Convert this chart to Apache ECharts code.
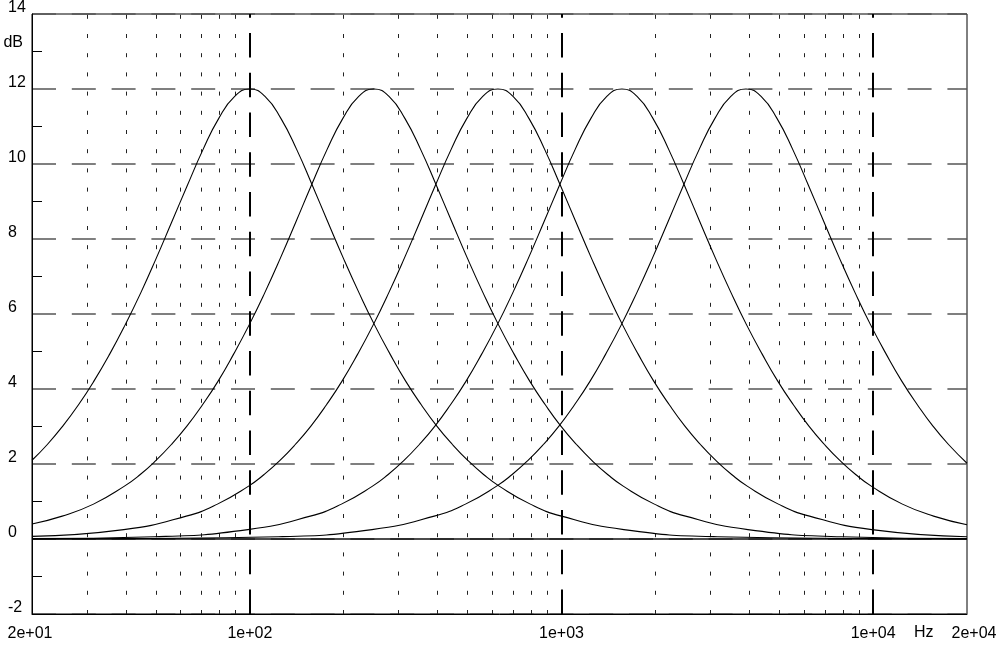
<!DOCTYPE html>
<html>
<head>
<meta charset="utf-8">
<script src="https://cdn.jsdelivr.net/npm/echarts@6.0.0/dist/echarts.min.js"></script>
<style>
html, body { margin: 0; padding: 0; background: #fff; }
#main { width: 999px; height: 647px; }
</style>
</head>
<body>
<div id="main"></div>
<script>
// five peaking bands, +12 dB each, [Hz, dB]
let band100 = [
    [20, 2.10], [22.4, 2.52], [25.1, 3.01], [28.2, 3.58], [31.6, 4.21], [35.5, 4.93], [39.8, 5.71],
    [44.7, 6.57], [50.1, 7.49], [56.2, 8.46], [63.1, 9.44], [70.8, 10.39], [79.4, 11.21], [89.1, 11.79],
    [100, 12.00], [112.2, 11.79], [125.9, 11.21], [141.3, 10.39], [158.5, 9.44], [177.8, 8.46],
    [199.5, 7.49], [223.9, 6.57], [251.2, 5.71], [281.8, 4.93], [316.2, 4.21], [354.8, 3.58],
    [398.1, 3.01], [446.7, 2.52], [501.2, 2.09], [562.3, 1.72], [631, 1.41], [794.3, 0.93],
    [1000, 0.61], [1585, 0.25], [3162, 0.06], [10000, 0.01], [20000, 0]
];
let band250 = [
    [20, 0.40], [25.0, 0.61], [31.5, 0.93], [39.6, 1.41], [44.5, 1.72], [49.9, 2.09], [56.0, 2.52],
    [62.8, 3.01], [70.5, 3.58], [79.1, 4.21], [88.7, 4.93], [99.5, 5.71], [111.7, 6.57], [125.3, 7.49],
    [140.6, 8.46], [157.7, 9.44], [177.0, 10.39], [198.6, 11.21], [222.8, 11.79], [250, 12.00],
    [280.5, 11.79], [314.7, 11.21], [353.1, 10.39], [396.2, 9.44], [444.6, 8.46], [498.8, 7.49],
    [559.7, 6.57], [628.0, 5.71], [704.6, 4.93], [790.6, 4.21], [887.0, 3.58], [995.3, 3.01],
    [1116.7, 2.52], [1253.0, 2.09], [1405.9, 1.72], [1577.4, 1.41], [1985.8, 0.93], [2500, 0.61],
    [3962, 0.25], [7906, 0.06], [20000, 0.01]
];
let band625 = [
    [20, 0.07], [39.4, 0.25], [62.5, 0.61], [78.7, 0.93], [99.1, 1.41], [111.1, 1.72], [124.7, 2.09],
    [139.9, 2.52], [157.0, 3.01], [176.2, 3.58], [197.6, 4.21], [221.8, 4.93], [248.8, 5.71],
    [279.2, 6.57], [313.2, 7.49], [351.5, 8.46], [394.3, 9.44], [442.5, 10.39], [496.5, 11.21],
    [557.0, 11.79], [625, 12.00], [701.3, 11.79], [786.8, 11.21], [882.8, 10.39], [990.6, 9.44],
    [1111.4, 8.46], [1247.1, 7.49], [1399.2, 6.57], [1569.9, 5.71], [1761.5, 4.93], [1976.4, 4.21],
    [2217.6, 3.58], [2488.2, 3.01], [2791.8, 2.52], [3132.4, 2.09], [3514.6, 1.72], [3943.5, 1.41],
    [4964.6, 0.93], [6250, 0.61], [9906, 0.25], [20000, 0.06]
];
let band1560 = [
    [20, 0.01], [49.4, 0.06], [98.6, 0.25], [156.3, 0.61], [196.7, 0.93], [247.6, 1.41], [277.9, 1.72],
    [311.8, 2.09], [349.8, 2.52], [392.5, 3.01], [440.4, 3.58], [494.1, 4.21], [554.4, 4.93],
    [622.0, 5.71], [698.0, 6.57], [783.1, 7.49], [878.7, 8.46], [985.9, 9.44], [1106.2, 10.39],
    [1241.2, 11.21], [1392.6, 11.79], [1562.5, 12.00], [1753.1, 11.79], [1967.0, 11.21],
    [2207.0, 10.39], [2476.4, 9.44], [2778.6, 8.46], [3117.7, 7.49], [3498.0, 6.57], [3924.8, 5.71],
    [4403.8, 4.93], [4941.1, 4.21], [5543.9, 3.58], [6220.5, 3.01], [6979.4, 2.52], [7831.1, 2.09],
    [8786.6, 1.72], [9858.8, 1.41], [12411, 0.93], [15625, 0.61], [20000, 0.38]
];
let band3900 = [
    [20, 0], [39.1, 0.01], [123.5, 0.06], [246.5, 0.25], [390.6, 0.61], [491.8, 0.93], [619.1, 1.41],
    [694.6, 1.72], [779.4, 2.09], [874.5, 2.52], [981.2, 3.01], [1100.9, 3.58], [1235.3, 4.21],
    [1386.0, 4.93], [1555.1, 5.71], [1744.9, 6.57], [1957.7, 7.49], [2196.6, 8.46], [2464.7, 9.44],
    [2765.5, 10.39], [3102.9, 11.21], [3481.5, 11.79], [3906.25, 12.00], [4382.8, 11.79],
    [4917.6, 11.21], [5517.6, 10.39], [6191.0, 9.44], [6946.5, 8.46], [7794.1, 7.49], [8745.0, 6.57],
    [9812.1, 5.71], [11009, 4.93], [12352, 4.21], [13860, 3.58], [15551, 3.01], [17449, 2.52],
    [20000, 2.02]
];
let bands = [band100, band250, band625, band1560, band3900];

// vertical grid: decades dashed, the rest dotted
let decadeLines = [100, 1000, 10000];
let minorLines = [30, 40, 50, 60, 70, 80, 90,
                  200, 300, 400, 500, 600, 700, 800, 900,
                  2000, 3000, 4000, 5000, 6000, 7000, 8000, 9000];

let fMin = 20, fMax = 20000;
let dbMin = -2, dbMax = 14, dbStep = 2;
let xUnit = 'Hz', yUnit = 'dB';

let font = 'Liberation Sans, Arial, sans-serif';

function sciLabel(v) {
    let e = Math.floor(Math.log10(v) + 1e-9);
    let m = Math.round(v / Math.pow(10, e));
    return m + 'e+' + (e < 10 ? '0' : '') + e;
}

let lines = [];
decadeLines.forEach(function (f) {
    lines.push({ xAxis: f, lineStyle: { color: '#000', width: 2, type: [24.5, 15.25] } });
});
minorLines.forEach(function (f) {
    lines.push({ xAxis: f, lineStyle: { color: '#222', width: 1, type: [4, 15.2] } });
});
lines.push({ yAxis: 0, lineStyle: { color: '#111', width: 1.6, type: 'solid' } });

let myChart = echarts.init(document.getElementById('main'));

let option = {
    animation: false,
    backgroundColor: '#fff',
    textStyle: { fontFamily: font },
    grid: {
        left: 32, right: 32, top: 14, bottom: 33,
        show: true, borderColor: '#000', borderWidth: 1,
        outerBoundsMode: 'none'
    },
    xAxis: {
        type: 'log',
        logBase: 10,
        min: fMin,
        max: fMax,
        name: xUnit,
        nameLocation: 'end',
        nameGap: -53,
        nameMoveOverlap: false,
        nameTextStyle: { color: '#000', fontSize: 16, fontFamily: font, verticalAlign: 'top', lineHeight: 38 },
        axisLine: { show: true, onZero: false, lineStyle: { color: '#000', width: 1 } },
        axisTick: { show: false },
        splitLine: { show: false },
        axisLabel: {
            color: '#000',
            fontSize: 16,
            fontFamily: font,
            margin: 12,
            showMinLabel: true,
            showMaxLabel: true,
            hideOverlap: false,
            formatter: function (v, i) {
                let s = sciLabel(v);
                if (Math.abs(v - fMax) < 1) return '{last|' + s + '}';
                if (Math.abs(v - fMin) < 0.1) return '{first|' + s + '}';
                return s;
            },
            rich: {
                first: { color: '#000', fontSize: 16, fontFamily: font, padding: [0, 4, 0, 0] },
                last: { color: '#000', fontSize: 16, fontFamily: font, padding: [0, 0, 0, 14] }
            }
        }
    },
    yAxis: {
        type: 'value',
        min: dbMin,
        max: dbMax,
        interval: dbStep,
        name: yUnit,
        nameLocation: 'end',
        nameGap: -28.5,
        nameMoveOverlap: false,
        nameTextStyle: { color: '#000', fontSize: 16, fontFamily: font, align: 'right', verticalAlign: 'middle', padding: [0, 9, 0, 0] },
        axisLine: { show: true, lineStyle: { color: '#000', width: 1 } },
        axisTick: { show: false, inside: true },
        minorTick: { show: true, splitNumber: 2, length: 10, lineStyle: { color: '#000', width: 1 } },
        splitLine: { show: true, lineStyle: { color: '#555', width: 1.5, type: [24, 15.8] } },
        axisLabel: {
            color: '#000',
            fontSize: 16,
            fontFamily: font,
            align: 'left',
            margin: 24,
            verticalAlign: 'bottom',
            lineHeight: 12,
            showMinLabel: true,
            showMaxLabel: true
        }
    },
    series: bands.map(function (d, i) {
        let s = {
            type: 'line',
            data: d,
            smooth: true,
            showSymbol: false,
            silent: true,
            lineStyle: { color: '#000', width: 1.1 },
            itemStyle: { color: '#000' },
            z: 3
        };
        if (i === 0) {
            s.markLine = {
                silent: true,
                symbol: ['none', 'none'],
                label: { show: false },
                emphasis: { disabled: true },
                animation: false,
                z: 2,
                data: lines
            };
        }
        return s;
    })
};

myChart.setOption(option);
</script>
</body>
</html>
